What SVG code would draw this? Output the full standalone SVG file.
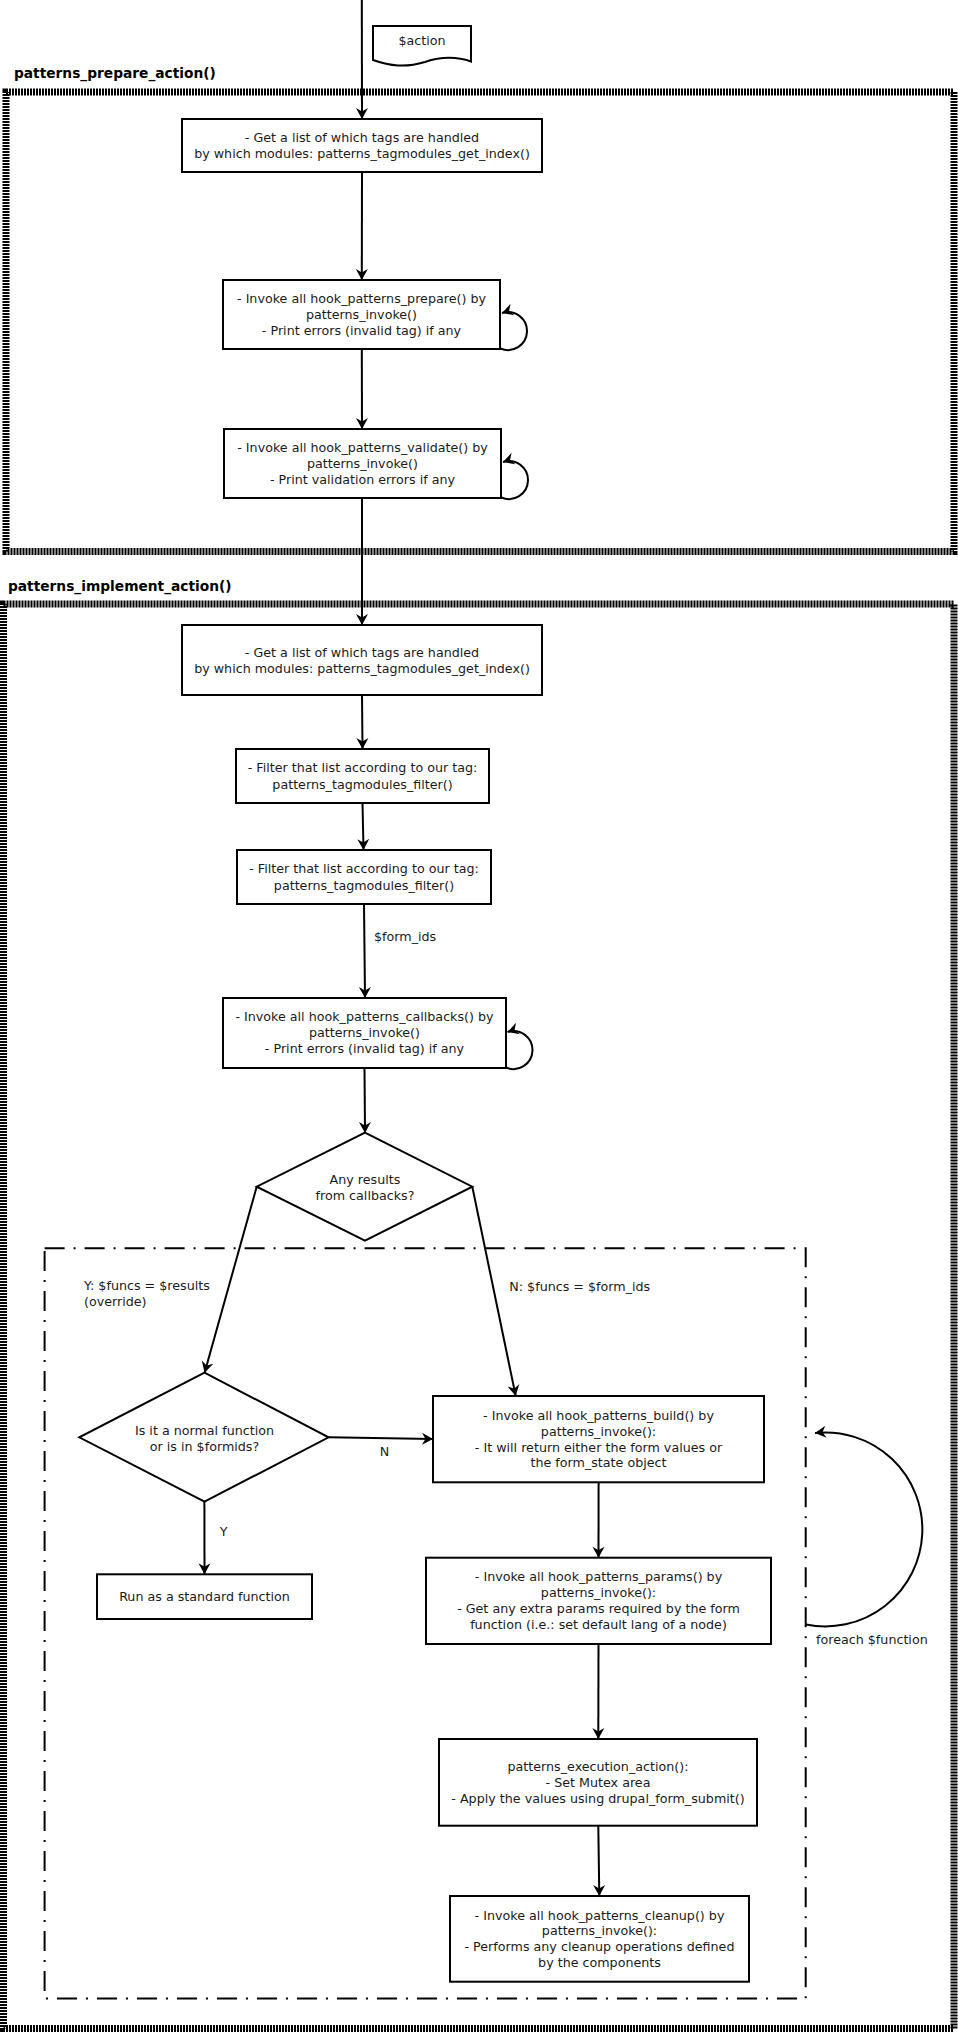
<svg xmlns="http://www.w3.org/2000/svg" width="958" height="2032" viewBox="0 0 958 2032">
<style>
text{font-family:"DejaVu Sans","Liberation Sans",sans-serif;font-size:12.7px;fill:#1a1a1a}
.c{text-anchor:middle}
.t{font-weight:bold;font-size:13.75px;fill:#000}
.box{fill:#fff;stroke:#000;stroke-width:2}
.ln{fill:none;stroke:#000;stroke-width:2}
.hatch{fill:none;stroke:#000;stroke-width:7;stroke-dasharray:2 1}
.dd{fill:none;stroke:#000;stroke-width:2;stroke-dasharray:20 9 2 9}
</style>
<defs>
<marker id="a" viewBox="-12 -7 13 14" refX="0" refY="0" markerWidth="13" markerHeight="14" markerUnits="userSpaceOnUse" orient="auto">
<path d="M0,0 L-11,-6 L-7.5,0 L-11,6 Z" fill="#000"/>
</marker>
</defs>

<g id="frames">
<rect class="hatch" x="6" y="92" width="948" height="459.5"/>
<text class="t" x="14" y="78">patterns_prepare_action()</text>
<rect class="hatch" x="3.5" y="604" width="950.5" height="1424.5"/>
<text class="t" x="8" y="590.5">patterns_implement_action()</text>
<rect class="dd" x="44.6" y="1248.3" width="761.1" height="750.2"/>
</g>

<g id="connectors">
<path class="ln" d="M361.8,0 L362,119" marker-end="url(#a)"/>
<path class="ln" d="M362,172 L361.8,280" marker-end="url(#a)"/>
<path class="ln" d="M361.8,349 L362,429" marker-end="url(#a)"/>
<path class="ln" d="M362,498 L362,625" marker-end="url(#a)"/>
<path class="ln" d="M362,695 L362.5,749" marker-end="url(#a)"/>
<path class="ln" d="M362.5,803 L363.5,850" marker-end="url(#a)"/>
<path class="ln" d="M364,904 L365,998" marker-end="url(#a)"/>
<path class="ln" d="M364.5,1068 L365,1133" marker-end="url(#a)"/>
<path class="ln" d="M256.7,1186.7 L204.6,1372.7" marker-end="url(#a)"/>
<path class="ln" d="M472.3,1186.7 L515.7,1396" marker-end="url(#a)"/>
<path class="ln" d="M328.6,1437.3 L433,1439" marker-end="url(#a)"/>
<path class="ln" d="M204.4,1501.7 L204.5,1574.3" marker-end="url(#a)"/>
<path class="ln" d="M598.6,1482.3 L598.5,1557.7" marker-end="url(#a)"/>
<path class="ln" d="M598.5,1644 L598.3,1739" marker-end="url(#a)"/>
<path class="ln" d="M598.3,1825.7 L599.3,1896" marker-end="url(#a)"/>
<path class="ln" d="M500.5,348.5 A19 19 0 1 0 502,313" marker-end="url(#a)"/>
<path class="ln" d="M501.5,497.5 A19 19 0 1 0 503,462" marker-end="url(#a)"/>
<path class="ln" d="M506,1067.5 A19 19 0 1 0 507.5,1032" marker-end="url(#a)"/>
<path class="ln" d="M806,1624.5 A97 97 0 1 0 815,1433" marker-end="url(#a)"/>
<text x="374" y="941">$form_ids</text>
<text x="84" y="1290.2">Y: $funcs = $results</text>
<text x="84" y="1306.2">(override)</text>
<text x="509.3" y="1291">N: $funcs = $form_ids</text>
<text class="c" x="384.6" y="1456">N</text>
<text class="c" x="223.6" y="1536">Y</text>
<text x="816" y="1643.5">foreach $function</text>
</g>

<g id="action-doc">
<path d="M373,26 H471 V61.5 C455,56 440,57 425,62 C405,68 390,66 373,60 Z" fill="#fff" stroke="#000" stroke-width="2"/>
<text class="c" x="422" y="45">$action</text>
</g>

<g id="prep-index">
<rect class="box" x="182" y="119" width="360" height="53"/>
<text class="c" x="362" y="142.2">- Get a list of which tags are handled</text>
<text class="c" x="362" y="157.8">by which modules: patterns_tagmodules_get_index()</text>
</g>
<g id="prep-prepare">
<rect class="box" x="223" y="280" width="277" height="69"/>
<text class="c" x="361.5" y="303.4">- Invoke all hook_patterns_prepare() by</text>
<text class="c" x="361.5" y="319">patterns_invoke()</text>
<text class="c" x="361.5" y="334.6">- Print errors (invalid tag) if any</text>
</g>
<g id="prep-validate">
<rect class="box" x="224" y="429" width="277" height="69"/>
<text class="c" x="362.5" y="452.4">- Invoke all hook_patterns_validate() by</text>
<text class="c" x="362.5" y="468">patterns_invoke()</text>
<text class="c" x="362.5" y="483.6">- Print validation errors if any</text>
</g>

<g id="impl-index">
<rect class="box" x="182" y="625" width="360" height="70"/>
<text class="c" x="362" y="657">- Get a list of which tags are handled</text>
<text class="c" x="362" y="673">by which modules: patterns_tagmodules_get_index()</text>
</g>
<g id="impl-filter1">
<rect class="box" x="236" y="749" width="253" height="54"/>
<text class="c" x="362.5" y="772">- Filter that list according to our tag:</text>
<text class="c" x="362.5" y="788.5">patterns_tagmodules_filter()</text>
</g>
<g id="impl-filter2">
<rect class="box" x="237" y="850" width="254" height="54"/>
<text class="c" x="364" y="873">- Filter that list according to our tag:</text>
<text class="c" x="364" y="889.5">patterns_tagmodules_filter()</text>
</g>
<g id="impl-callbacks">
<rect class="box" x="223" y="998" width="283" height="70"/>
<text class="c" x="364.5" y="1020.5">- Invoke all hook_patterns_callbacks() by</text>
<text class="c" x="364.5" y="1036.8">patterns_invoke()</text>
<text class="c" x="364.5" y="1052.8">- Print errors (invalid tag) if any</text>
</g>
<g id="dec-results">
<path class="box" d="M365,1132.7 L472.3,1186.7 L365,1240.7 L256.7,1186.7 Z"/>
<text class="c" x="365" y="1183.8">Any results</text>
<text class="c" x="365" y="1199.5">from callbacks?</text>
</g>
<g id="dec-normal">
<path class="box" d="M204.5,1372.7 L328.6,1437.3 L204.5,1501.7 L79.3,1437.3 Z"/>
<text class="c" x="204.5" y="1434.5">Is it a normal function</text>
<text class="c" x="204.5" y="1450.5">or is in $formids?</text>
</g>
<g id="run-standard">
<rect class="box" x="97" y="1574.3" width="215" height="44.7"/>
<text class="c" x="204.5" y="1601">Run as a standard function</text>
</g>
<g id="build">
<rect class="box" x="433" y="1396" width="331" height="86.3"/>
<text class="c" x="598.5" y="1419.5">- Invoke all hook_patterns_build() by</text>
<text class="c" x="598.5" y="1435.5">patterns_invoke():</text>
<text class="c" x="598.5" y="1451.5">- It will return either the form values or</text>
<text class="c" x="598.5" y="1467">the form_state object</text>
</g>
<g id="params">
<rect class="box" x="426" y="1557.7" width="345" height="86.3"/>
<text class="c" x="598.5" y="1581">- Invoke all hook_patterns_params() by</text>
<text class="c" x="598.5" y="1597">patterns_invoke():</text>
<text class="c" x="598.5" y="1613.3">- Get any extra params required by the form</text>
<text class="c" x="598.5" y="1629">function (i.e.: set default lang of a node)</text>
</g>
<g id="execution">
<rect class="box" x="439" y="1739" width="318" height="86.7"/>
<text class="c" x="598" y="1771">patterns_execution_action():</text>
<text class="c" x="598" y="1787">- Set Mutex area</text>
<text class="c" x="598" y="1803">- Apply the values using drupal_form_submit()</text>
</g>
<g id="cleanup">
<rect class="box" x="450" y="1896" width="299" height="85.7"/>
<text class="c" x="599.5" y="1919.5">- Invoke all hook_patterns_cleanup() by</text>
<text class="c" x="599.5" y="1935">patterns_invoke():</text>
<text class="c" x="599.5" y="1951">- Performs any cleanup operations defined</text>
<text class="c" x="599.5" y="1967">by the components</text>
</g>
</svg>
